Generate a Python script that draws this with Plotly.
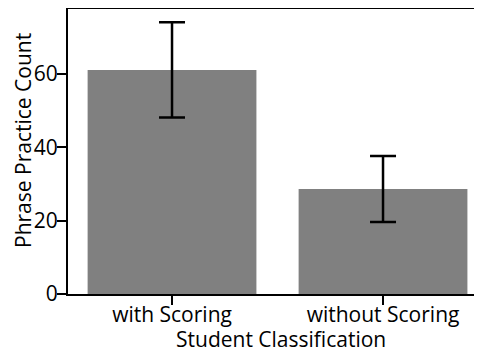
import plotly.graph_objects as go

categories = ["with Scoring", "without Scoring"]
values = [61.1, 28.6]
errors = [13.0, 9.0]
y_ticks = [0, 20, 40, 60]

FONT = "Open Sans"
FS = 21
fig = go.Figure()
fig.add_trace(go.Bar(
    x=categories, y=values, width=0.8,
    marker=dict(color="#808080", line=dict(width=0)),
    error_y=dict(type="data", array=errors, visible=True, color="black", thickness=2.5, width=13),
))
fig.update_layout(
    width=482, height=352,
    margin=dict(l=60, r=0, t=1, b=66),
    plot_bgcolor="white", paper_bgcolor="white",
    font=dict(family=FONT, size=FS, color="black"),
    showlegend=False,
)
fig.update_xaxes(
    range=[-0.493, 1.507], automargin=False,
    showline=True, linecolor="black", linewidth=2, mirror=True,
    ticks="outside", ticklen=9, tickwidth=2, tickcolor="black",
    showgrid=False, zeroline=False, ticklabelstandoff=-8,
    tickfont=dict(size=FS),
)
fig.update_yaxes(
    range=[0, 77.7], tickvals=y_ticks, automargin=False,
    showline=True, linecolor="black", linewidth=2,
    ticks="outside", ticklen=9, tickwidth=2, tickcolor="black",
    showgrid=False, zeroline=False, ticklabelstandoff=-5,
    tickfont=dict(size=FS),
)
fig.add_annotation(
    text="Phrase Practice Count", xref="paper", yref="paper",
    x=0, y=(286 - 133) / 285, xshift=-45, xanchor="center", yanchor="middle",
    textangle=-90, showarrow=False, font=dict(size=FS),
)
fig.add_annotation(
    text="Student Classification", xref="paper", yref="paper",
    x=(281 - 68) / 422, y=0, yshift=-29, xanchor="center", yanchor="top",
    showarrow=False, font=dict(size=FS),
)
fig.write_html("out.html")
